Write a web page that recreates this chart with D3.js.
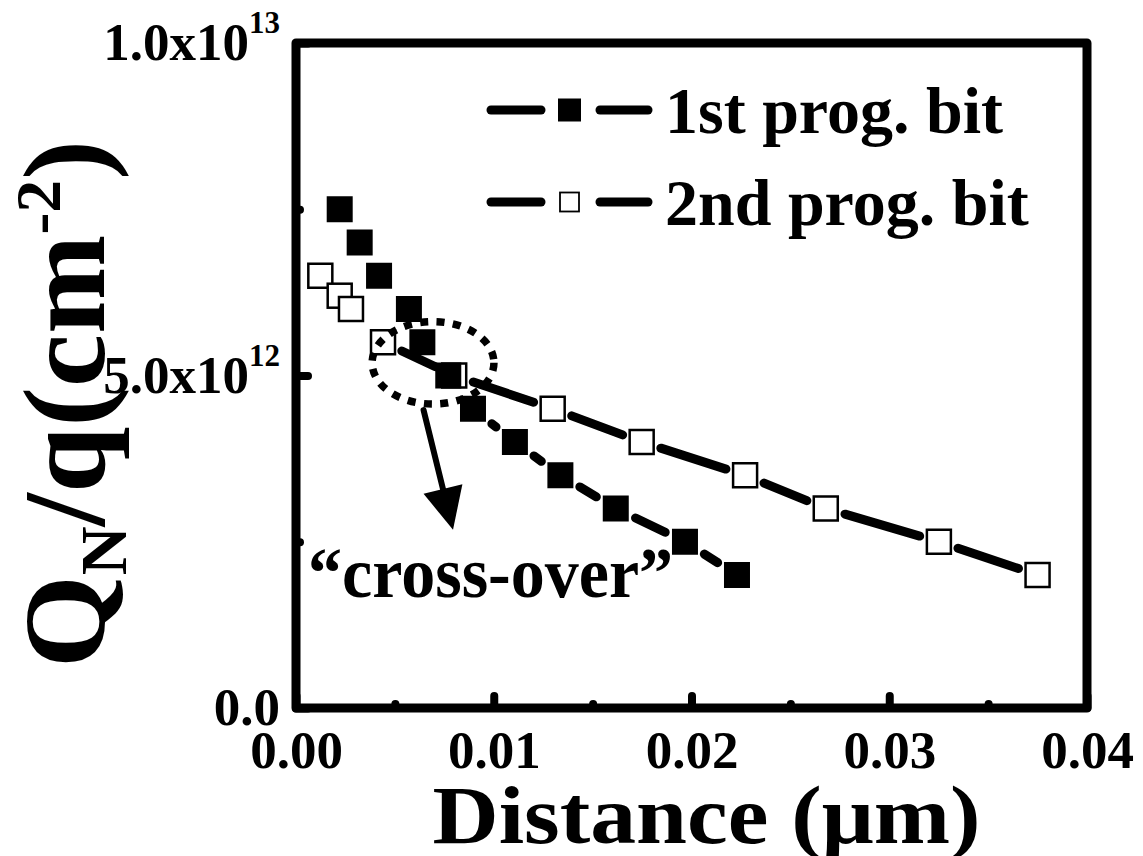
<!DOCTYPE html>
<html>
<head>
<meta charset="utf-8">
<script src="https://cdn.jsdelivr.net/npm/d3@7"></script>
<style>
  body { margin: 0; background: #fff; }
  text { font-family: "Liberation Serif", "Times New Roman", serif; font-weight: bold; fill: #000; }
</style>
</head>
<body>
<div id="chart"></div>
<script>
// data
var seriesNames = ['1st prog. bit', '2nd prog. bit'];

var distance1 = [0.00221, 0.00322, 0.00420, 0.00571, 0.00639, 0.00770, 0.00895, 0.01107, 0.01337, 0.01617, 0.01967, 0.02230];
var charge1   = [7.5e12, 7.0e12, 6.5e12, 6.0e12, 5.5e12, 5.0e12, 4.5e12, 4.0e12, 3.5e12, 3.0e12, 2.5e12, 2.0e12];

var distance2 = [0.00123, 0.00221, 0.00278, 0.00440, 0.00800, 0.01298, 0.01748, 0.02271, 0.02679, 0.03251, 0.03750];
var charge2   = [6.5e12, 6.2e12, 6.0e12, 5.5e12, 5.0e12, 4.5e12, 4.0e12, 3.5e12, 3.0e12, 2.5e12, 2.0e12];

var xTicksMajor = [0, 0.01, 0.02, 0.03, 0.04];
var xTicksMinor = [0.005, 0.015, 0.025, 0.035];
var yTicksMajor = [0, 5e12, 1e13];
var yTicksMinor = [2.5e12, 7.5e12];
var yTickMantissa = ['0.0', '5.0x10', '1.0x10'];
var yTickExponent = ['', '12', '13'];

// annotation: dotted ellipse, arrow and label (data units)
var ringCenter = [0.00693, 5.19e12], ringRadius = [0.00308, 0.62e12];
var arrowFrom = [0.00645, 4.48e12], arrowTo = [0.00794, 2.68e12];
var noteAt = [0.00061, 1.67e12], noteText = '\u201Ccross-over\u201D';

var margin = {top: 43, right: 56, bottom: 148, left: 296},
    W = 1143, H = 856,
    width = W - margin.left - margin.right,
    height = H - margin.top - margin.bottom;

var svg = d3.select('#chart').append('svg')
  .attr('width', W)
  .attr('height', H);

var g = svg.append('g')
  .attr('transform', 'translate(' + margin.left + ',' + margin.top + ')');

var x = d3.scaleLinear().domain([0, 0.04]).range([0, width]);
var y = d3.scaleLinear().domain([0, 1e13]).range([height, 0]);

// axes (ticks point inward)
function styleAxis(sel) {
  sel.attr('font-size', null).attr('font-family', null);
  sel.select('.domain').remove();
  sel.selectAll('.tick line')
    .attr('stroke', '#000')
    .attr('stroke-width', 8)
    .attr('stroke-linecap', 'round');
  sel.selectAll('.tick text').style('font-size', '53px');
}

g.append('g')
  .attr('transform', 'translate(0,' + height + ')')
  .call(d3.axisBottom(x).tickValues(xTicksMinor).tickSizeInner(-4).tickSizeOuter(0).tickFormat(''))
  .call(styleAxis);

g.append('g')
  .attr('transform', 'translate(0,' + height + ')')
  .call(d3.axisBottom(x).tickValues(xTicksMajor).tickSizeInner(-12).tickSizeOuter(0)
    .tickPadding(22).tickFormat(d3.format('.2f')))
  .call(styleAxis);

g.append('g')
  .call(d3.axisLeft(y).tickValues(yTicksMinor).tickSizeInner(-4).tickSizeOuter(0).tickFormat(''))
  .call(styleAxis);

var yAx = g.append('g')
  .call(d3.axisLeft(y).tickValues(yTicksMajor).tickSizeInner(-12).tickSizeOuter(0)
    .tickPadding(16).tickFormat(function(d, i){ return yTickMantissa[i]; }))
  .call(styleAxis);

yAx.selectAll('.tick text').each(function(d, i) {
  if (!yTickExponent[i]) return;
  d3.select(this).append('tspan')
    .attr('dy', '-27')
    .style('font-size', '31px')
    .text(yTickExponent[i]);
});

// connecting lines with gaps round each marker
function drawSeries(xs, ys, half, filled) {
  var pts = xs.map(function(d, i){ return [x(d), y(ys[i])]; });
  var segs = [];
  for (var i = 0; i < pts.length - 1; i++) {
    var a = pts[i], b = pts[i+1];
    var dx = b[0] - a[0], dy = b[1] - a[1], len = Math.sqrt(dx*dx + dy*dy);
    var ux = dx / len, uy = dy / len;
    var cut = half / Math.max(Math.abs(ux), Math.abs(uy)) + 7.5;
    if (len - 2 * cut <= 0) continue;
    segs.push([a[0] + ux*cut, a[1] + uy*cut, b[0] - ux*cut, b[1] - uy*cut]);
  }
  g.append('g').selectAll('line')
    .data(segs)
  .enter().append('line')
    .attr('x1', function(d){ return d[0]; })
    .attr('y1', function(d){ return d[1]; })
    .attr('x2', function(d){ return d[2]; })
    .attr('y2', function(d){ return d[3]; })
    .attr('stroke', '#000')
    .attr('stroke-width', 9)
    .attr('stroke-linecap', 'round');

  g.append('g').selectAll('rect')
    .data(pts)
  .enter().append('rect')
    .attr('x', function(d){ return d[0] - half; })
    .attr('y', function(d){ return d[1] - half; })
    .attr('width', half * 2)
    .attr('height', half * 2)
    .attr('fill', filled ? '#000' : '#fff')
    .attr('stroke', filled ? 'none' : '#000')
    .attr('stroke-width', 2.5);
}

drawSeries(distance2, charge2, 12, false);
drawSeries(distance1, charge1, 13, true);

// dotted ring
g.append('ellipse')
  .attr('cx', x(ringCenter[0]))
  .attr('cy', y(ringCenter[1]))
  .attr('rx', x(ringRadius[0]) - x(0))
  .attr('ry', y(0) - y(ringRadius[1]))
  .attr('fill', 'none')
  .attr('stroke', '#000')
  .attr('stroke-width', 7.5)
  .attr('stroke-dasharray', '8 8.4');

// arrow
var ax0 = x(arrowFrom[0]), ay0 = y(arrowFrom[1]), ax1 = x(arrowTo[0]), ay1 = y(arrowTo[1]);
var adx = ax1 - ax0, ady = ay1 - ay0, alen = Math.sqrt(adx*adx + ady*ady);
var aux = adx / alen, auy = ady / alen, headLen = 42, headW = 20;
var bx = ax1 - aux * headLen, by = ay1 - auy * headLen;
g.append('line')
  .attr('x1', ax0).attr('y1', ay0)
  .attr('x2', bx + aux * 4).attr('y2', by + auy * 4)
  .attr('stroke', '#000')
  .attr('stroke-width', 6)
  .attr('stroke-linecap', 'round');
g.append('path')
  .attr('d', 'M' + ax1 + ',' + ay1 +
             'L' + (bx - auy * headW) + ',' + (by + aux * headW) +
             'L' + (bx + auy * headW) + ',' + (by - aux * headW) + 'Z')
  .attr('fill', '#000');

g.append('text')
  .attr('x', x(noteAt[0]))
  .attr('y', y(noteAt[1]))
  .attr('textLength', 365)
  .attr('lengthAdjust', 'spacingAndGlyphs')
  .style('font-size', '72px')
  .text(noteText);

// frame
g.append('rect')
  .attr('width', width)
  .attr('height', height)
  .attr('fill', 'none')
  .attr('stroke', '#000')
  .attr('stroke-width', 9)
  .attr('stroke-linejoin', 'round');

// legend
var legend = svg.append('g').attr('transform', 'translate(487,110)');
var legRows = legend.selectAll('g')
  .data(seriesNames)
.enter().append('g')
  .attr('transform', function(d, i){ return 'translate(0,' + (i * 92) + ')'; });

legRows.append('line')
  .attr('x1', 4).attr('x2', 54).attr('y1', 0).attr('y2', 0)
  .attr('stroke', '#000').attr('stroke-width', 9).attr('stroke-linecap', 'round');
legRows.append('line')
  .attr('x1', 113).attr('x2', 161).attr('y1', 0).attr('y2', 0)
  .attr('stroke', '#000').attr('stroke-width', 9).attr('stroke-linecap', 'round');
legRows.append('rect')
  .attr('x', function(d, i){ return i ? 73 : 71; })
  .attr('y', function(d, i){ return i ? -9.5 : -11.5; })
  .attr('width', function(d, i){ return i ? 19 : 23; })
  .attr('height', function(d, i){ return i ? 19 : 23; })
  .attr('fill', function(d, i){ return i ? '#fff' : '#000'; })
  .attr('stroke', function(d, i){ return i ? '#000' : 'none'; })
  .attr('stroke-width', 1.8);
legRows.append('text')
  .attr('x', 178)
  .attr('y', 23)
  .style('font-size', '66px')
  .text(function(d){ return d; });

// axis titles
svg.append('text')
  .attr('x', margin.left + width / 2 + 15)
  .attr('y', 843)
  .attr('text-anchor', 'middle')
  .attr('textLength', 548)
  .attr('lengthAdjust', 'spacingAndGlyphs')
  .style('font-size', '82px')
  .text('Distance (\u03BCm)');

var yTitle = svg.append('text')
  .attr('transform', 'translate(104,404) rotate(-90)')
  .attr('text-anchor', 'middle')
  .attr('textLength', 528)
  .attr('lengthAdjust', 'spacingAndGlyphs')
  .style('font-size', '116px');
yTitle.append('tspan').text('Q');
yTitle.append('tspan').attr('dy', 22).style('font-size', '66px').text('N');
yTitle.append('tspan').attr('dy', -22).text('/q(cm');
yTitle.append('tspan').attr('dy', -44).style('font-size', '64px').text('-2');
yTitle.append('tspan').attr('dy', 44).text(')');
</script>
</body>
</html>
